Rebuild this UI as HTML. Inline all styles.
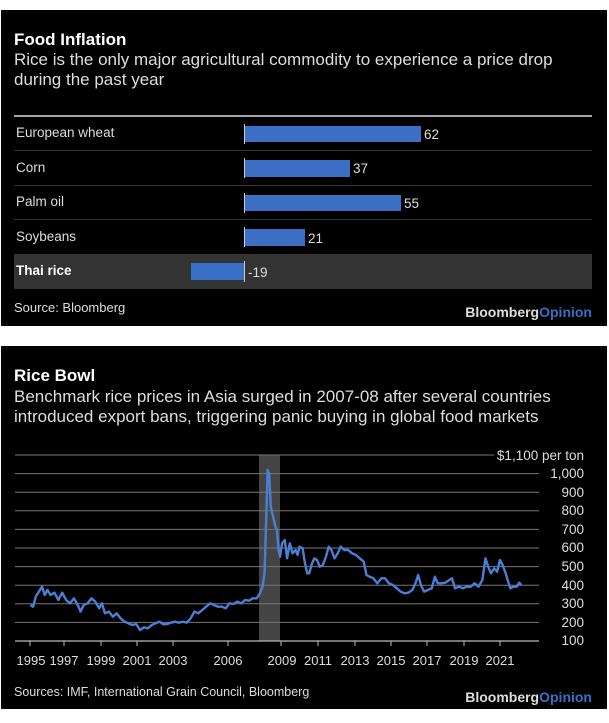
<!DOCTYPE html>
<html><head><meta charset="utf-8"><style>
body{margin:0;background:#fff;width:609px;height:723px;position:relative;overflow:hidden;font-family:"Liberation Sans",sans-serif}
.p{position:absolute;left:1px;width:606px;background:#000}
</style></head><body>
<div class="p" style="top:10px;height:316px"></div>
<div class="p" style="top:346px;height:363px"></div>
<svg width="609" height="723" style="position:absolute;left:0;top:0" font-family="Liberation Sans, sans-serif">
<!-- top chart -->
<text x="14" y="45" fill="#fff" font-size="17" font-weight="bold">Food Inflation</text>
<text x="14" y="65" fill="#ddd" font-size="17">Rice is the only major agricultural commodity to experience a price drop</text>
<text x="14" y="85" fill="#ddd" font-size="17">during the past year</text>
<line x1="14" y1="116" x2="592" y2="116" stroke="#ddd" stroke-width="1.5"/>
<g stroke="#333" stroke-width="1"><line x1="14" y1="150.5" x2="592" y2="150.5"/><line x1="14" y1="185.5" x2="592" y2="185.5"/><line x1="14" y1="219.5" x2="592" y2="219.5"/></g>
<rect x="14" y="254" width="578" height="35" fill="#333"/>
<g fill="#3a6fc4">
<rect x="244" y="126" width="177" height="16"/>
<rect x="244" y="160" width="106" height="17"/>
<rect x="244" y="195" width="157" height="16"/>
<rect x="244" y="229" width="61" height="17"/>
<rect x="191" y="263" width="53" height="17"/>
</g>
<g stroke="#ccc" stroke-width="1"><line x1="244.5" y1="124" x2="244.5" y2="144"/><line x1="244.5" y1="158" x2="244.5" y2="178"/><line x1="244.5" y1="193" x2="244.5" y2="213"/><line x1="244.5" y1="227" x2="244.5" y2="247"/><line x1="244.5" y1="261" x2="244.5" y2="282"/></g>
<g fill="#ddd" font-size="13.5">
<text x="16" y="137">European wheat</text><text x="16" y="172">Corn</text><text x="16" y="206">Palm oil</text><text x="16" y="241">Soybeans</text>
<text x="16" y="275" font-weight="bold" fill="#fff">Thai rice</text>
<text x="424" y="139">62</text><text x="353" y="173">37</text><text x="404" y="208">55</text><text x="308" y="243">21</text><text x="248" y="277">-19</text>
<text x="14" y="312" font-size="13">Source: Bloomberg</text>
</g>
<text x="592" y="317" text-anchor="end" font-size="14" font-weight="bold" fill="#ddd">Bloomberg<tspan fill="#3a6fc4">Opinion</tspan></text>
<!-- bottom chart -->
<text x="14" y="381" fill="#fff" font-size="17" font-weight="bold">Rice Bowl</text>
<text x="14" y="402" fill="#ddd" font-size="17">Benchmark rice prices in Asia surged in 2007-08 after several countries</text>
<text x="14" y="422" fill="#ddd" font-size="17">introduced export bans, triggering panic buying in global food markets</text>
<rect x="259" y="455" width="21" height="186" fill="#444"/>
<g stroke="#777" stroke-width="1">
<line x1="15" y1="455" x2="494" y2="455"/>
<line x1="15" y1="473.6" x2="539" y2="473.6"/><line x1="15" y1="492.2" x2="539" y2="492.2"/><line x1="15" y1="510.8" x2="539" y2="510.8"/><line x1="15" y1="529.4" x2="539" y2="529.4"/><line x1="15" y1="548" x2="539" y2="548"/><line x1="15" y1="566.6" x2="539" y2="566.6"/><line x1="15" y1="585.2" x2="539" y2="585.2"/><line x1="15" y1="603.8" x2="539" y2="603.8"/><line x1="15" y1="622.4" x2="539" y2="622.4"/>
</g>
<line x1="15" y1="641" x2="539" y2="641" stroke="#bbb" stroke-width="1.2"/>
<g stroke="#bbb" stroke-width="1">
<line x1="30" y1="641" x2="30" y2="646"/><line x1="64" y1="641" x2="64" y2="646"/><line x1="101" y1="641" x2="101" y2="646"/><line x1="137" y1="641" x2="137" y2="646"/><line x1="173" y1="641" x2="173" y2="646"/><line x1="228" y1="641" x2="228" y2="646"/><line x1="281" y1="641" x2="281" y2="646"/><line x1="318" y1="641" x2="318" y2="646"/><line x1="355" y1="641" x2="355" y2="646"/><line x1="391" y1="641" x2="391" y2="646"/><line x1="427" y1="641" x2="427" y2="646"/><line x1="464" y1="641" x2="464" y2="646"/><line x1="500" y1="641" x2="500" y2="646"/>
</g>
<g fill="#ddd" font-size="13.5" text-anchor="end">
<text x="584" y="460">$1,100 per ton</text><text x="584" y="478">1,000</text><text x="584" y="497">900</text><text x="584" y="515">800</text><text x="584" y="534">700</text><text x="584" y="552">600</text><text x="584" y="571">500</text><text x="584" y="590">400</text><text x="584" y="608">300</text><text x="584" y="627">200</text><text x="584" y="645">100</text>
</g>
<g fill="#ddd" font-size="13" text-anchor="middle">
<text x="31" y="665">1995</text><text x="64" y="665">1997</text><text x="101" y="665">1999</text><text x="137" y="665">2001</text><text x="173" y="665">2003</text><text x="228" y="665">2006</text><text x="282" y="665">2009</text><text x="318" y="665">2011</text><text x="355" y="665">2013</text><text x="391" y="665">2015</text><text x="427" y="665">2017</text><text x="464" y="665">2019</text><text x="500" y="665">2021</text>
</g>
<g transform="translate(0,440) scale(0.389,0.33333)">
<polyline fill="none" stroke="#4a7fd4" stroke-width="2.4" vector-effect="non-scaling-stroke" stroke-linejoin="round" points="78,495 85,500 92,470 100,455 108,440 115,465 122,450 130,465 140,458 150,480 160,458 170,480 180,490 190,475 200,495 207,515 215,495 225,490 235,475 245,485 255,505 262,490 270,520 280,515 290,530 300,520 310,535 320,545 330,550 340,555 350,552 360,570 370,562 380,565 390,555 400,550 410,545 420,553 430,552 440,548 450,545 460,548 470,545 480,548 490,535 500,515 510,520 520,510 530,500 540,490 550,495 560,500 570,500 580,505 590,490 600,492 610,485 620,490 630,480 640,482 650,475 660,475 668,460 675,440 680,400 684,250 688,90 692,100 696,200 702,230 708,260 712,270 716,330 720,350 725,310 732,300 738,355 745,310 752,340 760,330 765,345 770,320 778,325 784,370 790,400 795,400 802,370 808,355 815,360 822,380 830,375 838,350 845,320 852,330 860,355 868,340 876,320 885,330 895,330 905,340 915,345 925,355 935,365 942,405 950,410 960,415 970,430 980,415 990,415 1000,430 1010,435 1020,445 1030,455 1040,460 1050,458 1060,450 1068,430 1075,405 1082,435 1090,455 1100,450 1110,445 1118,410 1125,430 1135,430 1145,428 1155,420 1162,415 1170,445 1180,440 1190,445 1200,440 1210,440 1220,430 1230,440 1240,420 1248,355 1255,380 1262,400 1270,385 1278,395 1285,360 1292,375 1300,400 1305,420 1312,445 1320,440 1328,440 1335,428 1340,435"/>
</g>
<text x="14" y="696" fill="#ddd" font-size="12.5">Sources: IMF, International Grain Council, Bloomberg</text>
<text x="592" y="702" text-anchor="end" font-size="14" font-weight="bold" fill="#ddd">Bloomberg<tspan fill="#3a6fc4">Opinion</tspan></text>
</svg>
</body></html>
